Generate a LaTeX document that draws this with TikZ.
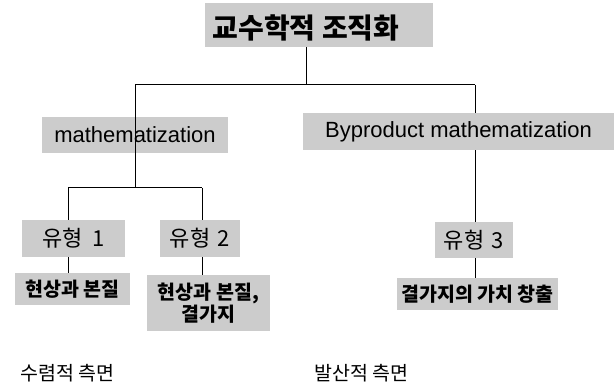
\documentclass[tikz,border=0pt]{standalone}
\usepackage{fontspec}
\setmainfont{Liberation Sans}
\newfontfamily\kr{Noto Sans CJK KR}
\definecolor{boxgray}{gray}{0.80}
\tikzset{
  gbox/.style={fill=boxgray, draw=none, inner sep=0pt},
  conn/.style={line width=1pt, black},
  krbig/.style={font=\kr\bfseries\fontsize{28}{30}\selectfont},
  krmid/.style={font=\kr\fontsize{22}{24}\selectfont},
  krsmall/.style={font=\kr\bfseries\fontsize{19.5}{21.5}\selectfont, align=center},
  lat/.style={font=\fontsize{22}{24}\selectfont},
  side/.style={font=\kr\fontsize{19.5}{21}\selectfont, anchor=west},
}
\begin{document}
\begin{tikzpicture}[x=1pt,y=-1pt]
\useasboundingbox (0,0) rectangle (614,385);
% junction points
\coordinate (h1) at (135,85);
\coordinate (h2) at (475,85);
\coordinate (h3) at (135,188);
\coordinate (h4) at (68,188);
\coordinate (h5) at (202,188);
% background lines
\draw[conn] (h1) -- (h2);
\draw[conn] (h2) -- (475,222);
\draw[conn] (h4) -- (h5);
\draw[conn] (h4) -- (68,275);
\draw[conn] (h5) -- (202,275);
\draw[conn] (475,258) -- (475,278);
% boxes
\node[gbox, minimum width=228pt, minimum height=44pt] (tb) at (319,25) {};
\node[krbig] (title) at (306,28) {교수학적 조직화};
\node[gbox, lat, minimum width=186pt, minimum height=36pt] (math) at (135,135) {mathematization};
\node[gbox, lat, minimum width=311pt, minimum height=37pt] (byp) at (458.5,131.5) {Byproduct mathematization};
\node[gbox, krmid, minimum width=103pt, minimum height=37pt] (t1) at (73.5,238.5) {유형\hspace{0.4em}1};
\node[gbox, krmid, minimum width=80pt, minimum height=37pt] (t2) at (200,238.5) {유형\hspace{0.35em}2};
\node[gbox, krmid, minimum width=78pt, minimum height=36pt] (t3) at (474,240) {유형\hspace{0.35em}3};
\node[gbox, krsmall, minimum width=115pt, minimum height=32pt] (p1) at (72.5,289) {현상과 본질};
\node[gbox, krsmall, minimum width=123pt, minimum height=56pt] (p2) at (208.5,303) {현상과 본질,\\결가지};
\node[gbox, krsmall, minimum width=161pt, minimum height=32pt] (p3) at (477.5,294) {결가지의 가치 창출};
% foreground lines
\draw[conn] (tb.south -| title) -- (title |- h1);
\draw[conn] (h1) -- (h3);
% side labels
\node[side] (conv) at (17,373) {수렴적 측면};
\node[side] (div) at (311,373) {발산적 측면};
\end{tikzpicture}
\end{document}
